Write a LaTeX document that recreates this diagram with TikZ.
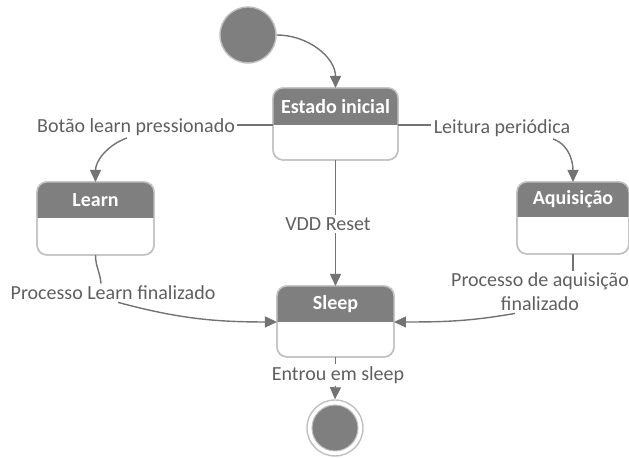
\documentclass[tikz,border=0pt]{standalone}
\usepackage{fontspec}
\setmainfont{Carlito}
\usepackage{tikz}
\usetikzlibrary{arrows.meta, calc}
\definecolor{headgray}{HTML}{7F7F7F}
\definecolor{boxgray}{HTML}{C0C0C0}
\definecolor{flowgray}{HTML}{737373}
\definecolor{labelgray}{HTML}{5F5F5F}
\tikzset{
  state/.style={draw=boxgray, fill=white, line width=0.7pt, rounded corners=5pt, outer sep=0pt, inner sep=0pt},
  title/.style={text=white, font=\fontsize{10}{12}\selectfont\bfseries, inner sep=0pt},
  trans/.style={text=labelgray, font=\fontsize{10}{12}\selectfont, inner sep=1pt, align=center},
  link/.style={draw=flowgray, line width=0.7pt},
  flow/.style={link, -{Triangle[length=6pt, width=5.5pt]}},
}

\begin{document}
\begin{tikzpicture}[x=0.5pt, y=0.5pt]
\useasboundingbox (0,0) rectangle (629,458);

\node[circle, fill=headgray, draw=boxgray, line width=0.7pt, minimum size=28pt, inner sep=0pt] (init) at (248,423) {};

\node[state, minimum width=62.5pt, minimum height=36pt] (ini) at (335.5,334) {};
\node[state, minimum width=58.5pt, minimum height=36.5pt] (learn) at (95.5,239.5) {};
\node[state, minimum width=56pt, minimum height=36pt] (aq) at (573,240) {};
\node[state, minimum width=58.5pt, minimum height=35.5pt] (sleep) at (335.5,136.5) {};

\foreach \s/\h/\txt in {ini/37/Estado inicial, learn/36/Learn, aq/35/Aquisição, sleep/36/Sleep} {
  \coordinate (\s-h) at ($(\s.north)+(0,-\h)$);
  \begin{scope}
    \clip[rounded corners=5pt] (\s.south west) rectangle (\s.north east);
    \fill[headgray] (\s.north west) rectangle (\s-h -| \s.east);
  \end{scope}
  \draw[boxgray, line width=0.7pt, rounded corners=5pt] (\s.south west) rectangle (\s.north east);
  \node[title] (\s-t) at ($(\s.north)!0.5!(\s-h)$) {\txt};
}

\node[circle, draw=boxgray, fill=white, line width=0.7pt, minimum size=28pt, inner sep=0pt] (final) at (335,30) {};
\node[circle, fill=headgray, draw=boxgray, line width=0.5pt, minimum size=23pt, inner sep=0pt] (finalin) at (final) {};

\node[trans] (botao) at (136,331) {Botão learn pressionado};
\node[trans] (leitura) at (502,330) {Leitura periódica};
\node[trans] (vdd) at (328,234) {VDD Reset};
\node[trans] (procL) at (113,165) {Processo Learn finalizado};
\node[trans] (procA) at (540,166) {Processo de aquisição\\finalizado};
\node[trans] (entrou) at (338,83) {Entrou em sleep};

\draw[flow] (init.east) to[out=0, in=90] (ini.north);
\draw[link] (ini-h -| ini.west) -- (ini-h -| botao.east);
\draw[flow] ([xshift=-4.5pt]botao.south) to[out=200, in=90] (learn.north);
\draw[link] (ini-h -| ini.east) -- (ini-h -| leitura.west);
\draw[flow] ([xshift=25.5pt]leitura.south) to[out=-20, in=90] (aq.north);
\draw[link] (ini.south) -- (vdd.north -| ini.south);
\draw[flow] (vdd.south -| ini.south) -- (sleep.north);
\draw[link] (learn.south) to[out=-90, in=95] ([xshift=-6pt]procL.north);
\draw[flow] ([xshift=2.5pt]procL.south) to[out=-15, in=180] (sleep-h -| sleep.west);
\draw[link] (aq.south) -- (procA.north -| aq.south);
\draw[flow] ([xshift=-12.5pt]procA.south) to[out=190, in=0] (sleep-h -| sleep.east);
\draw[link] (sleep.south) -- (entrou.north -| sleep.south);
\draw[flow] (entrou.south -| sleep.south) -- (final.north);
\end{tikzpicture}
\end{document}
